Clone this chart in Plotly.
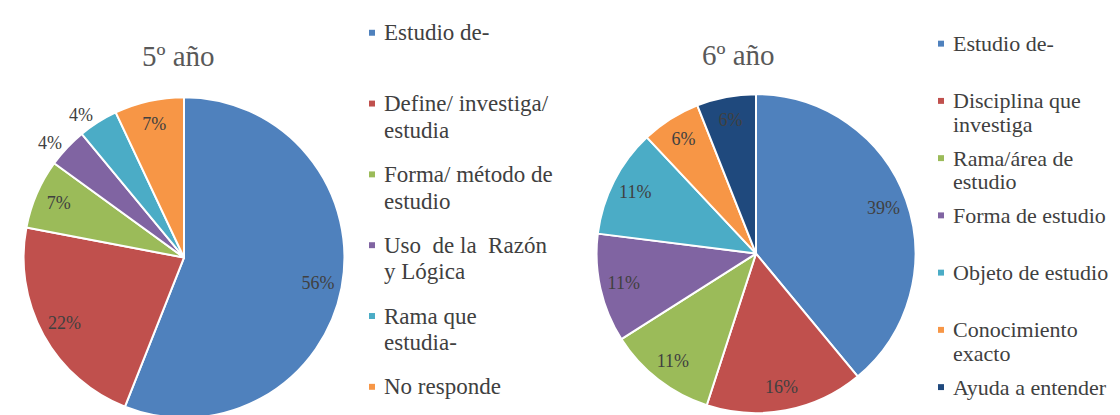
import plotly.graph_objects as go

W, H = 1120, 415

# ---------------- data ----------------
titles = ["5º año", "6º año"]

cats_5 = ["Estudio de-", "Define/ investiga/ estudia", "Forma/ método de estudio",
          "Uso de la Razón y Lógica", "Rama que estudia-", "No responde"]
vals_5 = [56, 22, 7, 4, 4, 7]
legend_lines_5 = [["Estudio de-"], ["Define/ investiga/", "estudia"],
                  ["Forma/ método de", "estudio"], ["Uso  de la  Razón", "y Lógica"],
                  ["Rama que", "estudia-"], ["No responde"]]

cats_6 = ["Estudio de-", "Disciplina que investiga", "Rama/área de estudio",
          "Forma de estudio", "Objeto de estudio", "Conocimiento exacto", "Ayuda a entender"]
vals_6 = [39, 16, 11, 11, 11, 6, 6]
legend_lines_6 = [["Estudio de-"], ["Disciplina que", "investiga"], ["Rama/área de", "estudio"],
                  ["Forma de estudio"], ["Objeto de estudio"], ["Conocimiento", "exacto"],
                  ["Ayuda a entender"]]

# ---------------- style ----------------
colors_5 = ["#4F81BD", "#C0504D", "#9BBB59", "#8064A2", "#4BACC6", "#F79646"]
colors_6 = ["#4F81BD", "#C0504D", "#9BBB59", "#8064A2", "#4BACC6", "#F79646", "#1F497D"]
textpos_5 = ["inside", "inside", "inside", "outside", "outside", "inside"]
textpos_6 = ["inside"] * 7

FONT = "Liberation Serif"
TXT = "#404040"

def px_x(x):
    return x / W

def px_y(y):
    return 1 - y / H

def domain(cx, cy, r):
    return dict(x=[px_x(cx - r), px_x(cx + r)], y=[px_y(cy + r), px_y(cy - r)])

pies = [
    dict(cats=cats_5, vals=vals_5, colors=colors_5, tpos=textpos_5,
         dom=domain(176, 252, 162), title=titles[0], tx=170, ty=48,
         lines=legend_lines_5, lx=361, l0=25, slot=71.5, lsp=27, lfs=23),
    dict(cats=cats_6, vals=vals_6, colors=colors_6, tpos=textpos_6,
         dom=domain(748, 248, 161), title=titles[1], tx=730, ty=47,
         lines=legend_lines_6, lx=930, l0=36, slot=57.8, lsp=23.5, lfs=22),
]

fig = go.Figure()
annotations = []
shapes = []

for p in pies:
    # visible slices
    fig.add_trace(go.Pie(
        labels=p["cats"], values=p["vals"], sort=False, direction="clockwise",
        rotation=0, domain=p["dom"], textinfo="none", showlegend=False,
        marker=dict(colors=p["colors"], line=dict(color="white", width=2)),
        hoverinfo="label+percent",
    ))
    # transparent ring carrying the percentage labels (places them near the rim)
    fig.add_trace(go.Pie(
        labels=p["cats"], values=p["vals"], sort=False, direction="clockwise",
        rotation=0, domain=p["dom"], hole=0.70, showlegend=False,
        texttemplate="%{percent:.0%}", textposition=p["tpos"],
        insidetextorientation="horizontal",
        textfont=dict(family=FONT, size=18, color=TXT),
        insidetextfont=dict(family=FONT, size=18, color=TXT),
        outsidetextfont=dict(family=FONT, size=18, color=TXT),
        marker=dict(colors=["rgba(0,0,0,0)"] * len(p["vals"]), line=dict(width=0)),
        hoverinfo="skip",
    ))
    # title
    annotations.append(dict(
        text=p["title"], x=px_x(p["tx"]), y=px_y(p["ty"]), xref="paper", yref="paper",
        xanchor="center", yanchor="middle", showarrow=False,
        font=dict(family=FONT, size=29, color="#595959"),
    ))
    # legend
    for i, (lines, col) in enumerate(zip(p["lines"], p["colors"])):
        y0 = p["l0"] + i * p["slot"]
        shapes.append(dict(
            type="rect", xref="paper", yref="paper",
            x0=px_x(p["lx"]), x1=px_x(p["lx"] + 6),
            y0=px_y(y0 + 3), y1=px_y(y0 - 3),
            fillcolor=col, line=dict(width=0),
        ))
        for j, line in enumerate(lines):
            annotations.append(dict(
                text=line, x=px_x(p["lx"] + 13), y=px_y(y0 + j * p["lsp"]),
                xref="paper", yref="paper", xanchor="left", yanchor="middle",
                showarrow=False, font=dict(family=FONT, size=p["lfs"], color=TXT),
            ))

fig.update_layout(
    width=W, height=H, margin=dict(l=0, r=0, t=0, b=0),
    paper_bgcolor="white", plot_bgcolor="white",
    font=dict(family=FONT),
    annotations=annotations, shapes=shapes,
)

fig.write_html("out.html")
